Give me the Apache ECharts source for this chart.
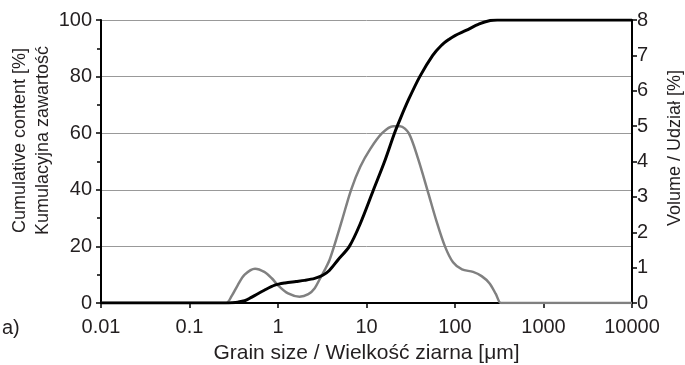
<!DOCTYPE html>
<html><head><meta charset="utf-8">
<script src="https://cdn.jsdelivr.net/npm/echarts@6/dist/echarts.min.js"></script>
<style>html,body{margin:0;padding:0;background:#fff}#c{width:685px;height:365px}</style>
</head><body><div id="c"></div>
<script>
// Grain size [µm]
const cumX = [0.01, 0.2, 0.26, 0.3, 0.35, 0.42, 0.5, 0.7, 0.92, 1.2, 1.6, 2.0, 2.6, 3.2, 3.8, 4.75, 6.4, 8.5, 12, 16, 20.7, 24, 30, 40, 56, 70, 86, 100, 133, 188, 250, 300, 500, 10000];
// Cumulative content [%]
const cumY = [0, 0, 0, 0.1, 0.3, 0.8, 2.0, 4.5, 6.3, 7.1, 7.6, 8.0, 8.7, 9.8, 11.5, 15.2, 20, 28, 40, 50, 60, 65, 72, 80, 87.5, 91, 93.2, 94.5, 96.3, 98.6, 99.8, 100, 100, 100];
// Grain size [µm]
const volX = [0.01, 0.2, 0.26, 0.3, 0.35, 0.42, 0.55, 0.7, 0.85, 1.0, 1.3, 1.75, 2.2, 2.6, 3.0, 3.4, 3.8, 4.3, 5.3, 6.7, 8.5, 11, 15, 20, 24, 30, 38, 50, 62, 77, 95, 120, 160, 200, 245, 290, 330, 400, 500, 10000];
// Volume [%]
const volY = [0, 0, 0, 0.2, 0.5, 0.8, 0.97, 0.88, 0.7, 0.5, 0.27, 0.18, 0.25, 0.42, 0.7, 0.95, 1.2, 1.6, 2.35, 3.2, 3.85, 4.35, 4.8, 5.0, 5.0, 4.8, 4.1, 3.1, 2.3, 1.6, 1.15, 0.95, 0.88, 0.76, 0.56, 0.25, 0, 0, 0, 0];
const xTickValues = [0.01, 0.1, 1, 10, 100, 1000, 10000];
const xTickLabels = ['0.01', '0.1', '1', '10', '100', '1000', '10000'];

const FONT = 'Liberation Sans, Arial, sans-serif';
const INK = '#231f20';
const chart = echarts.init(document.getElementById('c'), null, {renderer: 'canvas'});
const tick = {color: INK, fontFamily: FONT, fontSize: 20};
chart.setOption({
  animation: false,
  backgroundColor: '#fff',
  grid: {left: 101, right: 53, top: 20, bottom: 62, containLabel: false, outerBoundsMode: 'none'},
  xAxis: [{
    type: 'log', logBase: 10, min: 0.01, max: 10000,
    name: 'Grain size / Wielkość ziarna [μm]', nameLocation: 'middle', nameGap: 40,
    nameTextStyle: {color: INK, fontFamily: FONT, fontSize: 21},
    axisLine: {lineStyle: {color: '#000', width: 2}},
    axisTick: {show: true, length: 5, lineStyle: {color: '#000', width: 1.5}},
    minorTick: {show: false},
    splitLine: {show: false},
    axisLabel: Object.assign({margin: 14, formatter: v => {
      const i = xTickValues.findIndex(t => Math.abs(Math.log10(t) - Math.log10(v)) < 1e-6);
      return i >= 0 ? xTickLabels[i] : '';
    }}, tick)
  }, {
    type: 'log', logBase: 10, min: 0.01, max: 10000, position: 'top',
    axisLine: {lineStyle: {color: '#000', width: 2}},
    axisTick: {show: false}, axisLabel: {show: false}, splitLine: {show: false}
  }],
  yAxis: [{
    type: 'value', min: 0, max: 100, interval: 20, position: 'left',
    name: 'Cumulative content [%]\nKumulacyjna zawartość', nameLocation: 'middle', nameGap: 46, nameRotate: 90,
    nameMoveOverlap: false,
    nameTextStyle: {color: INK, fontFamily: FONT, fontSize: 18, lineHeight: 23, padding: [0, 0, 0, 42]},
    axisLine: {show: true, lineStyle: {color: '#000', width: 2}},
    axisTick: {show: true, length: 5, lineStyle: {color: '#000', width: 1.5}},
    minorTick: {show: true, splitNumber: 2, length: 4, lineStyle: {color: '#000', width: 1.5}},
    splitLine: {show: true, lineStyle: {color: '#999', width: 1}},
    axisLabel: Object.assign({margin: 9}, tick)
  }, {
    type: 'value', min: 0, max: 8, interval: 1, position: 'right',
    name: 'Volume / Udział [%]', nameLocation: 'middle', nameGap: 34, nameRotate: 90,
    nameTextStyle: {color: INK, fontFamily: FONT, fontSize: 18, padding: [0, 0, 0, 27]},
    axisLine: {show: true, lineStyle: {color: '#000', width: 2}},
    axisTick: {show: true, length: 5, lineStyle: {color: '#000', width: 1.5}},
    splitLine: {show: false},
    axisLabel: Object.assign({margin: 5}, tick)
  }],
  graphic: [{type: 'text', left: 2, top: 318, style: {text: 'a)', font: '20px ' + FONT, fill: INK}}],
  series: [{
    type: 'line', yAxisIndex: 1, symbol: 'none', smooth: 0.3,
    lineStyle: {color: '#808080', width: 2.5},
    data: volX.map((x, i) => [x, volY[i]])
  }, {
    type: 'line', yAxisIndex: 0, symbol: 'none', smooth: 0.3,
    lineStyle: {color: '#000', width: 3},
    data: cumX.map((x, i) => [x, cumY[i]])
  }]
});
</script></body></html>
